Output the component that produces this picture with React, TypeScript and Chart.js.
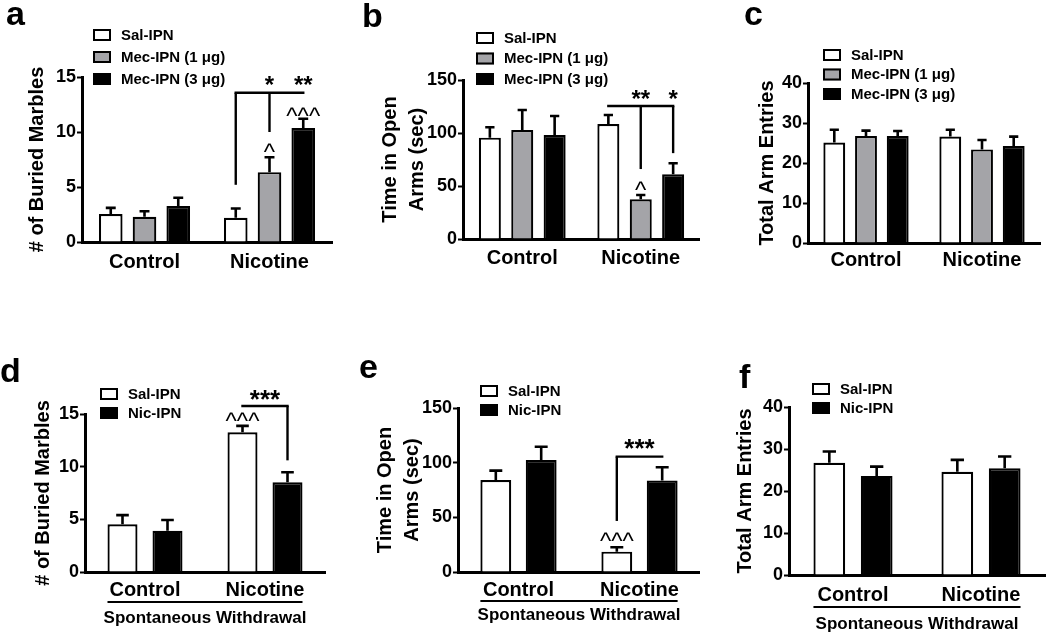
import React, { useEffect, useRef } from 'react';
import { Chart, registerables } from 'chart.js';

Chart.register(...registerables);

const FONT = "'Liberation Sans', Arial, Helvetica, sans-serif";

// ---------- data ----------
const CATEGORIES = ['Control', 'Nicotine'];
const SAL = 'Sal-IPN';
const MEC1 = 'Mec-IPN (1 \u03bcg)';
const MEC3 = 'Mec-IPN (3 \u03bcg)';
const NIC = 'Nic-IPN';

const TITLE_MARBLES = '# of Buried Marbles';
const TITLE_OPEN = ['Time in Open', 'Arms (sec)'];
const TITLE_ENTRIES = 'Total Arm Entries';
const SUBTITLE = 'Spontaneous Withdrawal';

// a: buried marbles, Mec-IPN
const A_SAL = [2.55, 2.2];
const A_SAL_SEM = [0.55, 0.85];
const A_MEC1 = [2.3, 6.35];
const A_MEC1_SEM = [0.5, 1.35];
const A_MEC3 = [3.27, 10.36];
const A_MEC3_SEM = [0.75, 0.85];

// b: time in open arms, Mec-IPN
const B_SAL = [95.6, 108.5];
const B_SAL_SEM = [9.8, 8.5];
const B_MEC1 = [102.8, 37.4];
const B_MEC1_SEM = [18.9, 4.1];
const B_MEC3 = [98, 61];
const B_MEC3_SEM = [18, 10.4];

// c: total arm entries, Mec-IPN
const C_SAL = [25.1, 26.6];
const C_SAL_SEM = [3.2, 1.7];
const C_MEC1 = [26.75, 23.4];
const C_MEC1_SEM = [1.35, 2.35];
const C_MEC3 = [26.75, 24.25];
const C_MEC3_SEM = [1.25, 2.35];

// d: buried marbles, spontaneous withdrawal
const D_SAL = [4.53, 13.27];
const D_SAL_SEM = [0.87, 0.6];
const D_NIC = [3.92, 8.52];
const D_NIC_SEM = [1.02, 0.95];

// e: time in open arms, spontaneous withdrawal
const E_SAL = [84.2, 18.6];
const E_SAL_SEM = [8.5, 4.0];
const E_NIC = [102.5, 83.6];
const E_NIC_SEM = [12.1, 12.2];

// f: total arm entries, spontaneous withdrawal
const F_SAL = [26.7, 24.6];
const F_SAL_SEM = [2.7, 2.8];
const F_NIC = [23.6, 25.4];
const F_NIC_SEM = [2.2, 2.8];

// y axis ranges
const MARBLES_MAX = 15;
const MARBLES_STEP = 5;
const OPEN_MAX = 150;
const OPEN_STEP = 50;
const ENTRIES_MAX = 40;
const ENTRIES_STEP = 10;

// ---------- styles ----------
const WHITE = '#ffffff';
const GRAY = '#a4a4a8';
const BLACK = '#000000';

type Ref = [number, number];
type Ann =
  | { kind: 'hline'; from: Ref; to: Ref; level: number }
  | { kind: 'vline'; at: Ref; from: number; to: number }
  | { kind: 'text'; at: Ref[]; level: number; text: string; size: number; bold: boolean; k: number };

interface Series { label: string; color: string; data: number[]; sem: number[] }
interface PanelSpec {
  letter: string;
  letterPos: [number, number];
  box: { x: number; y: number; w: number; h: number };
  area: { l: number; t: number; r: number; b: number };
  yMax: number;
  yStep: number;
  yTitle: string | string[];
  yTitlePad: number;
  yTitleLH: number;
  xTickPad: number;
  subtitle?: { pad: number; underlineY: number };
  legend: { x: number; y: number; dy: number };
  series: Series[];
  cp: number;
  bp: number;
  anns: Ann[];
}

const star = (at: Ref[], level: number, text: string, size = 26): Ann => ({ kind: 'text', at, level, text, size, bold: true, k: 0.42 });
const caret = (at: Ref[], level: number, text: string): Ann => ({ kind: 'text', at, level, text, size: 24, bold: false, k: 0.5 });

const PANELS: PanelSpec[] = [
  {
    letter: 'a', letterPos: [6, 25],
    box: { x: 0, y: 0, w: 350, h: 300 },
    area: { l: 82, t: 77, r: 332, b: 242 },
    yMax: MARBLES_MAX, yStep: MARBLES_STEP,
    yTitle: TITLE_MARBLES, yTitlePad: 25, yTitleLH: 1.2, xTickPad: 8,
    legend: { x: 93, y: 35, dy: 22 },
    series: [
      { label: SAL, color: WHITE, data: A_SAL, sem: A_SAL_SEM },
      { label: MEC1, color: GRAY, data: A_MEC1, sem: A_MEC1_SEM },
      { label: MEC3, color: BLACK, data: A_MEC3, sem: A_MEC3_SEM },
    ],
    cp: 0.81, bp: 0.7,
    anns: [
      { kind: 'hline', from: [0, 1], to: [2, 1], level: 13.57 },
      { kind: 'vline', at: [0, 1], from: 13.57, to: 5.2 },
      { kind: 'vline', at: [1, 1], from: 13.57, to: 10.0 },
      star([[1, 1]], 14.45, '*', 24),
      star([[2, 1]], 14.45, '**', 24),
      caret([[1, 1]], 8.55, '^'),
      caret([[2, 1]], 11.8, '^^^'),
    ],
  },
  {
    letter: 'b', letterPos: [362, 27],
    box: { x: 350, y: 0, w: 350, h: 300 },
    area: { l: 463, t: 80, r: 700, b: 239 },
    yMax: OPEN_MAX, yStep: OPEN_STEP,
    yTitle: TITLE_OPEN, yTitlePad: 26.5, yTitleLH: 1.35, xTickPad: 7,
    legend: { x: 476, y: 38, dy: 20.5 },
    series: [
      { label: SAL, color: WHITE, data: B_SAL, sem: B_SAL_SEM },
      { label: MEC1, color: GRAY, data: B_MEC1, sem: B_MEC1_SEM },
      { label: MEC3, color: BLACK, data: B_MEC3, sem: B_MEC3_SEM },
    ],
    cp: 0.82, bp: 0.68,
    anns: [
      { kind: 'hline', from: [0, 1], to: [2, 1], level: 125.5 },
      { kind: 'vline', at: [1, 1], from: 125.5, to: 66 },
      { kind: 'vline', at: [2, 1], from: 125.5, to: 81 },
      star([[1, 1]], 134, '**', 24),
      star([[2, 1]], 134, '*', 24),
      caret([[1, 1]], 50, '^'),
    ],
  },
  {
    letter: 'c', letterPos: [744, 25],
    box: { x: 700, y: 0, w: 350, h: 300 },
    area: { l: 808, t: 83, r: 1040, b: 243 },
    yMax: ENTRIES_MAX, yStep: ENTRIES_STEP,
    yTitle: TITLE_ENTRIES, yTitlePad: 55, yTitleLH: 1.2, xTickPad: 5,
    legend: { x: 823, y: 55, dy: 19.5 },
    series: [
      { label: SAL, color: WHITE, data: C_SAL, sem: C_SAL_SEM },
      { label: MEC1, color: GRAY, data: C_MEC1, sem: C_MEC1_SEM },
      { label: MEC3, color: BLACK, data: C_MEC3, sem: C_MEC3_SEM },
    ],
    cp: 0.82, bp: 0.69,
    anns: [],
  },
  {
    letter: 'd', letterPos: [0, 382],
    box: { x: 0, y: 318, w: 350, h: 317 },
    area: { l: 85, t: 414, r: 325, b: 572 },
    yMax: MARBLES_MAX, yStep: MARBLES_STEP,
    yTitle: TITLE_MARBLES, yTitlePad: 31, yTitleLH: 1.2, xTickPad: 6,
    subtitle: { pad: 6.8, underlineY: 602 },
    legend: { x: 100, y: 394, dy: 19 },
    series: [
      { label: SAL, color: WHITE, data: D_SAL, sem: D_SAL_SEM },
      { label: NIC, color: BLACK, data: D_NIC, sem: D_NIC_SEM },
    ],
    cp: 0.75, bp: 0.667,
    anns: [
      { kind: 'hline', from: [0, 1], to: [1, 1], level: 15.76 },
      { kind: 'vline', at: [1, 1], from: 15.76, to: 10.6 },
      star([[0, 1], [1, 1]], 16.6, '***'),
      caret([[0, 1]], 14.7, '^^^'),
    ],
  },
  {
    letter: 'e', letterPos: [359, 378],
    box: { x: 350, y: 318, w: 350, h: 317 },
    area: { l: 458, t: 408, r: 700, b: 572 },
    yMax: OPEN_MAX, yStep: OPEN_STEP,
    yTitle: TITLE_OPEN, yTitlePad: 21.5, yTitleLH: 1.35, xTickPad: 6,
    subtitle: { pad: 9.8, underlineY: 601 },
    legend: { x: 480, y: 391, dy: 19 },
    series: [
      { label: SAL, color: WHITE, data: E_SAL, sem: E_SAL_SEM },
      { label: NIC, color: BLACK, data: E_NIC, sem: E_NIC_SEM },
    ],
    cp: 0.75, bp: 0.68,
    anns: [
      { kind: 'hline', from: [0, 1], to: [1, 1], level: 105.5 },
      { kind: 'vline', at: [0, 1], from: 105.5, to: 46.7 },
      star([[0, 1], [1, 1]], 115.3, '***'),
      caret([[0, 1]], 32, '^^^'),
    ],
  },
  {
    letter: 'f', letterPos: [739, 388],
    box: { x: 700, y: 318, w: 350, h: 317 },
    area: { l: 789, t: 407, r: 1045, b: 575 },
    yMax: ENTRIES_MAX, yStep: ENTRIES_STEP,
    yTitle: TITLE_ENTRIES, yTitlePad: 33, yTitleLH: 1.2, xTickPad: 8,
    subtitle: { pad: 0, underlineY: 607 },
    legend: { x: 812, y: 389, dy: 19 },
    series: [
      { label: SAL, color: WHITE, data: F_SAL, sem: F_SAL_SEM },
      { label: NIC, color: BLACK, data: F_NIC, sem: F_NIC_SEM },
    ],
    cp: 0.74, bp: 0.67,
    anns: [],
  },
];

function makeConfig(p: PanelSpec): any {
  const { box, area } = p;
  const barAt = (chart: any, r: Ref) => chart.getDatasetMeta(r[0]).data[r[1]];

  const overlay = {
    id: 'overlay',
    afterDatasetsDraw(chart: any) {
      const ctx = chart.ctx;
      const ys = chart.scales.y;
      ctx.save();
      // error bars (upper SEM)
      p.series.forEach((s, i) => {
        const meta = chart.getDatasetMeta(i);
        meta.data.forEach((el: any, j: number) => {
          const yTop = el.y;
          const yErr = ys.getPixelForValue(s.data[j] + s.sem[j]);
          const cap = el.width * 0.42;
          ctx.strokeStyle = '#000';
          ctx.lineWidth = 2.6;
          ctx.beginPath();
          ctx.moveTo(el.x, yTop);
          ctx.lineTo(el.x, yErr);
          ctx.moveTo(el.x - cap / 2, yErr);
          ctx.lineTo(el.x + cap / 2, yErr);
          ctx.stroke();
        });
      });
      ctx.restore();
    },
    afterDraw(chart: any) {
      const ctx = chart.ctx;
      const ys = chart.scales.y;
      ctx.save();
      // panel letter
      ctx.fillStyle = '#000';
      ctx.font = `bold 34px ${FONT}`;
      ctx.textAlign = 'left';
      ctx.textBaseline = 'alphabetic';
      ctx.fillText(p.letter, p.letterPos[0] - box.x, p.letterPos[1] - box.y);

      // legend
      ctx.font = `bold 15px ${FONT}`;
      ctx.textBaseline = 'middle';
      p.series.forEach((s, i) => {
        const x = p.legend.x - box.x;
        const y = p.legend.y + i * p.legend.dy - box.y;
        ctx.fillStyle = s.color;
        ctx.fillRect(x, y - 6, 18, 12);
        ctx.strokeStyle = '#000';
        ctx.lineWidth = 2;
        ctx.strokeRect(x + 1, y - 5, 16, 10);
        ctx.fillStyle = '#000';
        ctx.fillText(s.label, x + 28, y + 0.5);
      });

      // significance annotations
      ctx.strokeStyle = '#000';
      ctx.lineWidth = 2.4;
      p.anns.forEach((a) => {
        if (a.kind === 'hline') {
          const y = ys.getPixelForValue(a.level);
          ctx.beginPath();
          ctx.moveTo(barAt(chart, a.from).x - 1.2, y);
          ctx.lineTo(barAt(chart, a.to).x + 1.2, y);
          ctx.stroke();
        } else if (a.kind === 'vline') {
          const x = barAt(chart, a.at).x;
          ctx.beginPath();
          ctx.moveTo(x, ys.getPixelForValue(a.from));
          ctx.lineTo(x, ys.getPixelForValue(a.to));
          ctx.stroke();
        } else {
          const xs = a.at.map((r) => barAt(chart, r).x);
          const x = xs.reduce((u, v) => u + v, 0) / xs.length;
          const y = ys.getPixelForValue(a.level);
          ctx.font = `${a.bold ? 'bold ' : ''}${a.size}px ${FONT}`;
          ctx.textAlign = 'center';
          ctx.textBaseline = 'alphabetic';
          ctx.fillStyle = '#000';
          ctx.fillText(a.text, x, y + a.k * a.size);
        }
      });

      // underline below categories
      if (p.subtitle) {
        const first = chart.getDatasetMeta(0).data[0];
        const last = chart.getDatasetMeta(p.series.length - 1).data[CATEGORIES.length - 1];
        const y = p.subtitle.underlineY - box.y;
        ctx.lineWidth = 2;
        ctx.beginPath();
        ctx.moveTo(first.x - first.width / 2, y);
        ctx.lineTo(last.x + last.width / 2, y);
        ctx.stroke();
      }
      ctx.restore();
    },
  };

  return {
    type: 'bar',
    data: {
      labels: CATEGORIES,
      datasets: p.series.map((s) => ({
        label: s.label,
        data: s.data,
        backgroundColor: s.color,
        borderColor: '#000',
        borderWidth: 2.2,
        categoryPercentage: p.cp,
        barPercentage: p.bp,
      })),
    },
    options: {
      responsive: false,
      animation: false,
      events: [],
      devicePixelRatio: 1,
      layout: {
        padding: {
          left: 0,
          bottom: 0,
          top: area.t - box.y,
          right: box.x + box.w - area.r,
        },
      },
      plugins: {
        legend: { display: false },
        tooltip: { enabled: false },
      },
      scales: {
        x: {
          type: 'category',
          offset: true,
          grid: { display: false, drawTicks: false },
          border: { display: true, color: '#000', width: 3 },
          ticks: {
            color: '#000',
            padding: p.xTickPad,
            font: { family: FONT, size: 20, weight: 'bold' },
            maxRotation: 0,
          },
          title: p.subtitle
            ? {
                display: true,
                text: SUBTITLE,
                color: '#000',
                font: { family: FONT, size: 17, weight: 'bold' },
                padding: { top: 0, bottom: p.subtitle.pad },
              }
            : { display: false },
          afterFit: (s: any) => {
            s.height = box.y + box.h - area.b;
          },
        },
        y: {
          min: 0,
          max: p.yMax,
          border: { display: true, color: '#000', width: 3 },
          grid: {
            display: true,
            drawOnChartArea: false,
            drawTicks: true,
            tickLength: 5,
            tickWidth: 2,
            tickColor: '#000',
            color: '#000',
          },
          ticks: {
            stepSize: p.yStep,
            color: '#000',
            padding: 1,
            font: { family: FONT, size: 18, weight: 'bold' },
          },
          title: {
            display: true,
            text: p.yTitle,
            color: '#000',
            font: { family: FONT, size: 20, weight: 'bold', lineHeight: p.yTitleLH },
            padding: { top: p.yTitlePad, bottom: 0 },
          },
          afterFit: (s: any) => {
            s.width = area.l - box.x;
          },
        },
      },
    },
    plugins: [overlay],
  };
}

function Panel({ p }: { p: PanelSpec }) {
  const ref = useRef<HTMLCanvasElement>(null);
  useEffect(() => {
    const chart = new Chart(ref.current as HTMLCanvasElement, makeConfig(p));
    return () => chart.destroy();
  }, [p]);
  return (
    <canvas
      ref={ref}
      width={p.box.w}
      height={p.box.h}
      style={{ position: 'absolute', left: p.box.x, top: p.box.y, width: p.box.w, height: p.box.h }}
    />
  );
}

export default function App() {
  return (
    <div style={{ position: 'absolute', left: 0, top: 0, width: 1050, height: 635, background: '#fff', overflow: 'hidden' }}>
      {PANELS.map((p) => (
        <Panel key={p.letter} p={p} />
      ))}
    </div>
  );
}
